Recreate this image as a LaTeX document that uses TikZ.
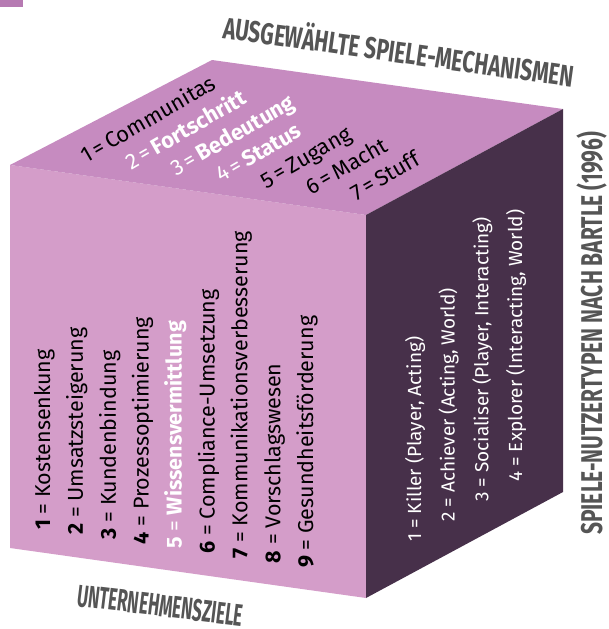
\documentclass[tikz,border=0pt]{standalone}
\usepackage{fontspec}
\setmainfont{Fira Sans}
\newfontfamily\headfont[FakeStretch=0.7]{Fira Sans}
\newfontfamily\headnarrow[FakeStretch=0.55]{Fira Sans}
\usepackage{xcolor}
\definecolor{lilac}{HTML}{D49DC9}
\definecolor{lilactop}{HTML}{C68BC0}
\definecolor{plum}{HTML}{47304A}
\definecolor{headgray}{HTML}{555555}
\definecolor{tabpurple}{HTML}{B67AB2}

\begin{document}
\begin{tikzpicture}[x=1pt,y=-1pt,
  lft/.style={rotate=90,anchor=base west,inner sep=0pt,font=\fontsize{21.5}{21}\selectfont},
  rgt/.style={rotate=90,anchor=base west,inner sep=0pt,text=white,font=\fontsize{19}{19}\selectfont},
  top/.style={rotate=30,anchor=base west,inner sep=0pt,font=\fontsize{22}{22}\selectfont},
  hd/.style={inner sep=0pt,anchor=base west,text=headgray,font=\headfont\bfseries\fontsize{30}{30}\selectfont}]
\useasboundingbox (0,0) rectangle (609,629);
\fill[tabpurple] (0,0) rectangle (23,7);
% cube corners
\coordinate (tl) at (10,165);
\coordinate (tb) at (212,60);
\coordinate (tr) at (563,109);
\coordinate (tf) at (366,215);
\coordinate (bl) at (10,548);
\coordinate (bf) at (366,598);
\coordinate (br) at (563,492);
\fill[lilac] (tl) -- (tf) -- (bf) -- (bl) -- cycle;
\fill[lilactop] (tl) -- (tb) -- (tr) -- (tf) -- cycle;
\fill[plum] (tf) -- (tr) -- (br) -- (bf) -- cycle;
% top face: mechanisms
\foreach \n/\t/\c/\f [count=\i from 0] in {1/Communitas/black/\mdseries,
  2/Fortschritt/white/\bfseries, 3/Bedeutung/white/\bfseries, 4/Status/white/\bfseries,
  5/Zugang/black/\mdseries, 6/Macht/black/\mdseries, 7/Stuff/black/\mdseries}
  \node[top,text=\c] (mech\n) at ({86+45*\i},{164+6.3*\i}) {\n\,=\,{\f\t}};
% left face: goals
\foreach \n/\t/\c/\f [count=\i from 0] in {1/Kostensenkung/black/\mdseries,
  2/Umsatzsteigerung/black/\mdseries, 3/Kundenbindung/black/\mdseries,
  4/Prozessoptimierung/black/\mdseries, 5/Wissensvermittlung/white/\bfseries,
  6/Compliance-Umsetzung/black/\mdseries, 7/Kommunikationsverbesserung/black/\mdseries,
  8/Vorschlagswesen/black/\mdseries, 9/Gesundheitsförderung/black/\mdseries}
  \node[lft,text=\c] (ziel\n) at ({50+32.9*\i},{530+4.75*\i}) {\textbf{\n} = {\f\t}};
% right face: player types
\foreach \n/\t [count=\i from 0] in {1/Killer (Player{,} Acting),
  2/Achiever (Acting{,} World), 3/Socialiser (Player{,} Interacting),
  4/Explorer (Interacting{,} World)}
  \node[rgt] (typ\n) at ({421+33.7*\i},{542-20*\i}) {\n{} = \t};
% headings
\node[hd,rotate=-8] (hmech) at (222,38) {AUSGEWÄHLTE SPIELE-MECHANISMEN};
\node[hd,rotate=-7,font=\headnarrow\bfseries\fontsize{31}{31}\selectfont] (hziel) at (76,606) {UNTERNEHMENSZIELE};
\node[hd,rotate=90] (htyp) at (602,535) {SPIELE-NUTZERTYPEN NACH BARTLE (1996)};
\end{tikzpicture}
\end{document}
